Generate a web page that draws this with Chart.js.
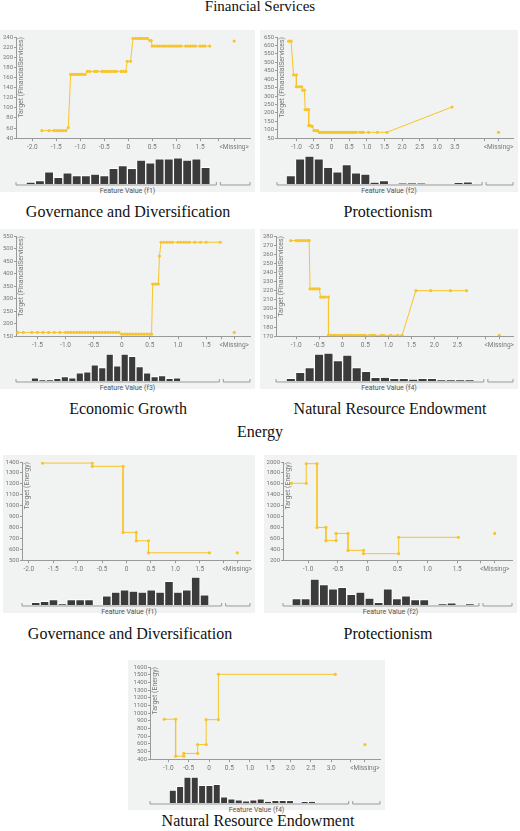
<!DOCTYPE html>
<html>
<head>
<meta charset="utf-8">
<script src="https://cdn.jsdelivr.net/npm/chart.js@4.4.0/dist/chart.umd.min.js"></script>
<style>
  body { margin: 0; background: #fff; width: 520px; height: 831px; position: relative; overflow: hidden; }
  .cap { position: absolute; font-family: "Liberation Serif", serif; font-size: 16px; color: #111; text-align: center; transform: translateX(-50%); white-space: nowrap; }
  .panel { position: absolute; background: #f1f2f2; }
  .panel canvas { position: absolute; left: 0; }
  .flabel { position: absolute; width: 100%; text-align: center; font-family: Roboto, sans-serif; font-size: 7px; color: #555; }
</style>
</head>
<body>
<div class="cap" style="left:260px;top:-2px;font-size:15px">Financial Services</div>
<div class="cap" style="left:128px;top:203px">Governance and Diversification</div>
<div class="cap" style="left:388px;top:203px">Protectionism</div>
<div class="cap" style="left:128px;top:400px">Economic Growth</div>
<div class="cap" style="left:390px;top:400px">Natural Resource Endowment</div>
<div class="cap" style="left:260px;top:423px">Energy</div>
<div class="cap" style="left:130px;top:625px">Governance and Diversification</div>
<div class="cap" style="left:388px;top:625px">Protectionism</div>
<div class="cap" style="left:258px;top:812px">Natural Resource Endowment</div>

<script>
// ---- Financial Services, f1
const fsF1X = [-1.8,-1.65,-1.55,-1.5,-1.45,-1.4,-1.35,-1.3,-1.25,-1.2,-1.15,-1.1,-1.05,-1.0,-0.95,-0.9,-0.85,-0.8,-0.7,-0.65,-0.55,-0.5,-0.45,-0.4,-0.35,-0.3,-0.25,-0.15,-0.1,-0.05,-0.02,0.05,0.1,0.15,0.2,0.25,0.3,0.35,0.4,0.45,0.48,0.5,0.55,0.6,0.65,0.7,0.75,0.8,0.85,0.9,0.95,1.0,1.05,1.1,1.2,1.25,1.3,1.35,1.4,1.5,1.55,1.6,1.7];
const fsF1Y = [55,55,55,55,55,55,55,55,61,166,166,166,166,166,166,166,172,172,172,172,172,172,172,172,172,172,172,172,172,172,192,192,237,237,237,237,237,237,237,233,233,222,222,222,222,222,222,222,222,222,222,222,222,222,222,222,222,222,222,222,222,222,222];
const fsF1Miss = 232;
const fsF1Hist = [3,6,22,12,20,15,15,18,15,28,33,28,43,38,45,45,47,43,45,30];

// ---- Financial Services, f2
const fsF2X = [-1.22,-1.15,-1.08,-1.0,-1.0,-0.95,-0.9,-0.85,-0.82,-0.77,-0.75,-0.7,-0.65,-0.65,-0.6,-0.55,-0.5,-0.45,-0.4,-0.35,-0.3,-0.25,-0.2,-0.15,-0.1,-0.05,0,0.05,0.1,0.15,0.2,0.25,0.3,0.35,0.4,0.45,0.5,0.55,0.6,0.65,0.7,0.8,0.85,0.9,1.05,1.3,1.57,3.42];
const fsF2Y = [625,625,425,425,355,355,355,355,335,335,220,220,220,125,125,120,95,95,95,85,85,85,85,85,85,85,85,85,85,85,85,85,85,85,85,85,85,85,85,85,85,85,85,85,85,85,85,235];
const fsF2Miss = 85;
const fsF2Hist = [15,45,50,45,30,22,35,20,18,3,6,0,1,1,1,0,0,0,2,4];

// ---- Financial Services, f3
const fsF3X = [-1.85,-1.75,-1.6,-1.5,-1.4,-1.3,-1.2,-1.1,-1.0,-0.95,-0.9,-0.85,-0.8,-0.75,-0.7,-0.65,-0.6,-0.55,-0.5,-0.45,-0.4,-0.35,-0.3,-0.25,-0.2,-0.15,-0.1,-0.05,0,0.05,0.1,0.15,0.2,0.25,0.3,0.35,0.4,0.45,0.5,0.53,0.55,0.6,0.65,0.67,0.7,0.75,0.8,0.85,0.9,1.0,1.05,1.1,1.15,1.2,1.3,1.4,1.5,1.75];
const fsF3Y = [165,165,165,165,165,165,165,165,165,165,165,165,165,165,165,165,165,165,165,165,165,165,165,165,165,165,165,165,158,158,158,158,158,158,158,158,158,158,158,158,358,358,358,470,525,525,525,525,525,525,525,525,525,525,525,525,525,525];
const fsF3Miss = 165;
const fsF3Hist = [6,2,2,5,8,6,15,17,30,25,50,28,50,46,27,15,8,10,5,6];

// ---- Financial Services, f4
const fsF4X = [-1.12,-1.0,-0.95,-0.9,-0.85,-0.8,-0.75,-0.72,-0.7,-0.65,-0.6,-0.55,-0.5,-0.47,-0.42,-0.37,-0.3,-0.3,-0.25,-0.2,-0.15,-0.1,-0.05,0,0.05,0.1,0.15,0.2,0.25,0.3,0.35,0.4,0.45,0.5,0.6,0.65,0.7,0.85,0.9,1.05,1.2,1.3,1.6,1.92,2.35,2.7];
const fsF4Y = [275,275,275,275,275,275,275,275,222,222,222,222,222,213,213,213,213,171,171,171,171,171,171,171,171,171,171,171,171,171,171,171,171,171,171,171,171,171,171,171,171,171,220,220,220,220];
const fsF4Miss = 171;
const fsF4Hist = [5,16,25,50,52,38,48,25,18,7,7,5,5,3,5,5,2,2,2,2];

// ---- Energy, f1
const enF1X = [-1.72,-0.7,-0.7,-0.07,-0.07,0.2,0.2,0.45,0.45,1.7];
const enF1Y = [1390,1390,1360,1360,755,755,678,678,568,568];
const enF1Miss = 568;
const enF1Hist = [5,7,10,2,10,10,10,0,17,24,28,26,24,28,24,44,24,28,52,19];

// ---- Energy, f2
const enF2X = [-1.28,-1.03,-1.03,-0.85,-0.85,-0.7,-0.7,-0.53,-0.53,-0.33,-0.33,-0.07,-0.07,0.52,0.52,1.52];
const enF2Y = [1610,1610,1970,1970,800,800,560,560,690,690,380,380,320,320,620,620];
const enF2Miss = 690;
const enF2Hist = [12,12,48,38,30,33,20,24,13,5,30,12,17,10,10,0,2,4,0,2];

// ---- Energy, f4
const enF4X = [-1.1,-0.82,-0.82,-0.62,-0.62,-0.28,-0.28,-0.07,-0.07,0.23,0.23,3.1];
const enF4Y = [920,920,440,440,475,475,590,590,915,915,1505,1505];
const enF4Miss = 590;
const enF4Hist = [25,32,50,50,34,34,36,12,8,6,4,6,8,3,5,5,5,0,3,3];

const GOLD = '#f7c52a';
const TICK = '#777';

// y-axis title drawn inside the plot, next to the axis
const yTitlePlugin = {
  id: 'yTitle',
  afterDraw(chart, args, opts) {
    const ctx = chart.ctx, a = chart.chartArea;
    ctx.save();
    ctx.translate(a.left + 5, a.top);
    ctx.rotate(-Math.PI / 2);
    ctx.font = '7px Roboto';
    ctx.fillStyle = '#777';
    ctx.textAlign = 'right';
    ctx.textBaseline = 'middle';
    ctx.fillText(opts.text, 0, 0);
    ctx.restore();
  }
};

// bracket line under the histogram
const bracketPlugin = {
  id: 'bracket',
  afterDraw(chart, args, opts) {
    const ctx = chart.ctx, x = chart.scales.x, y = chart.chartArea.bottom + 1;
    const segs = [[x.left, x.getPixelForValue(opts.sep) - 2], [x.getPixelForValue(opts.sep) + 2, x.right]];
    ctx.save();
    ctx.strokeStyle = '#999';
    ctx.lineWidth = 1;
    segs.forEach(s => {
      ctx.beginPath();
      ctx.moveTo(s[0], y - 3); ctx.lineTo(s[0], y); ctx.lineTo(s[1], y); ctx.lineTo(s[1], y - 3);
      ctx.stroke();
    });
    ctx.restore();
  }
};

function fmt(v) { return v === 0 ? '0' : v.toFixed(1); }

function addPanel(p) {
  const div = document.createElement('div');
  div.className = 'panel';
  div.style.cssText = `left:${p.left}px;top:${p.top}px;width:${p.w}px;height:${p.h}px`;
  document.body.appendChild(div);

  const lineH = Math.round(p.h * 0.76);
  const histTop = lineH + 2, histH = Math.round(p.h * 0.19);

  const c1 = document.createElement('canvas');
  c1.width = p.w; c1.height = lineH; c1.style.top = '0px';
  div.appendChild(c1);
  const c2 = document.createElement('canvas');
  c2.width = p.w; c2.height = histH; c2.style.top = histTop + 'px';
  div.appendChild(c2);
  const lab = document.createElement('div');
  lab.className = 'flabel';
  lab.style.top = (histTop + histH + 1) + 'px';
  lab.textContent = p.label;
  div.appendChild(lab);

  const ticks = p.ticks.concat([p.sep, p.miss]);
  const xScale = {
    type: 'linear', min: p.min, max: p.max,
    afterBuildTicks: s => { s.ticks = ticks.map(v => ({ value: v })); },
    grid: { drawOnChartArea: false, drawTicks: true, tickLength: 3, color: '#999' },
    border: { color: '#999' },
    ticks: { font: { size: 6.5, family: 'Roboto' }, color: TICK, maxRotation: 0, autoSkip: false, padding: 2,
      callback: v => v === p.miss ? '<Missing>' : (v === p.sep ? '' : fmt(v)) }
  };

  new Chart(c1, {
    type: 'scatter',
    data: {
      datasets: [
        { data: p.xs.map((x, i) => ({ x: x, y: p.ys[i] })), showLine: true, borderColor: GOLD, borderWidth: 1,
          pointRadius: 1.6, pointBackgroundColor: GOLD, pointBorderWidth: 0 },
        { data: [{ x: p.miss, y: p.missY }], pointRadius: 1.6, pointBackgroundColor: GOLD, pointBorderWidth: 0 }
      ]
    },
    options: {
      responsive: false, animation: false, events: [],
      layout: { padding: { top: 7, right: 5, left: 0, bottom: 0 } },
      plugins: { legend: { display: false }, tooltip: { enabled: false }, yTitle: { text: p.yTitle } },
      scales: {
        x: xScale,
        y: {
          min: p.ymin, max: p.ymax,
          afterFit: s => { s.width = p.yw; },
          grid: { drawOnChartArea: false, tickLength: 2, color: '#999' },
          border: { color: '#999' },
          ticks: { stepSize: p.step, autoSkip: false, font: { size: 6, family: 'Roboto' }, color: TICK, padding: 1,
            callback: v => String(v) }
        }
      }
    },
    plugins: [yTitlePlugin]
  });

  const n = p.hist.length, hw = (p.hEnd - p.hStart) / n;
  new Chart(c2, {
    type: 'bar',
    data: {
      datasets: [{ data: p.hist.map((v, i) => ({ x: p.hStart + hw * (i + 0.5), y: v })),
        backgroundColor: '#3b3b3b', borderColor: '#ffffff', borderWidth: 1,
        barThickness: 'flex', barPercentage: 1, categoryPercentage: 1 }]
    },
    options: {
      responsive: false, animation: false, events: [],
      layout: { padding: { top: 0, right: 5, left: p.yw, bottom: 2 } },
      plugins: { legend: { display: false }, tooltip: { enabled: false }, bracket: { sep: p.sep } },
      scales: {
        x: { type: 'linear', min: p.min, max: p.max, display: false, offset: false },
        y: { min: 0, max: 52, display: false }
      }
    },
    plugins: [bracketPlugin]
  });
}

const FS = 'Target (FinancialServices)', EN = 'Target (Energy)';

addPanel({ left: 0, top: 30, w: 255, h: 162, yw: 16, xs: fsF1X, ys: fsF1Y, missY: fsF1Miss, hist: fsF1Hist,
  min: -2.34, max: 2.54, sep: 1.88, miss: 2.21, ticks: [-2, -1.5, -1, -0.5, 0, 0.5, 1, 1.5],
  ymin: 40, ymax: 240, step: 20, yTitle: FS, label: 'Feature Value (f1)', hStart: -2.13, hEnd: 1.71 });

addPanel({ left: 260, top: 30, w: 258, h: 162, yw: 17, xs: fsF2X, ys: fsF2Y, missY: fsF2Miss, hist: fsF2Hist,
  min: -1.55, max: 5.15, sep: 4.33, miss: 4.74, ticks: [-1, -0.5, 0, 0.5, 1, 1.5, 2, 2.5, 3, 3.5],
  ymin: 50, ymax: 650, step: 50, yTitle: FS, label: 'Feature Value (f2)', hStart: -1.29, hEnd: 4.0 });

addPanel({ left: 0, top: 229, w: 255, h: 160, yw: 16, xs: fsF3X, ys: fsF3Y, missY: fsF3Miss, hist: fsF3Hist,
  min: -1.88, max: 2.28, sep: 1.77, miss: 2.0, ticks: [-1.5, -1, -0.5, 0, 0.5, 1, 1.5],
  ymin: 150, ymax: 550, step: 50, yTitle: FS, label: 'Feature Value (f3)', hStart: -1.61, hEnd: 1.05 });

addPanel({ left: 260, top: 229, w: 258, h: 160, yw: 16, xs: fsF4X, ys: fsF4Y, missY: fsF4Miss, hist: fsF4Hist,
  min: -1.44, max: 3.71, sep: 3.12, miss: 3.41, ticks: [-1, -0.5, 0, 0.5, 1, 1.5, 2, 2.5],
  ymin: 170, ymax: 280, step: 10, yTitle: FS, label: 'Feature Value (f4)', hStart: -1.22, hEnd: 2.87 });

addPanel({ left: 3, top: 455, w: 252, h: 158, yw: 19, xs: enF1X, ys: enF1Y, missY: enF1Miss, hist: enF1Hist,
  min: -2.14, max: 2.53, sep: 1.99, miss: 2.27, ticks: [-2, -1.5, -1, -0.5, 0, 0.5, 1, 1.5],
  ymin: 500, ymax: 1400, step: 100, yTitle: EN, label: 'Feature Value (f1)', hStart: -1.95, hEnd: 1.69 });

addPanel({ left: 264, top: 455, w: 253, h: 158, yw: 19, xs: enF2X, ys: enF2Y, missY: enF2Miss, hist: enF2Hist,
  min: -1.42, max: 2.42, sep: 1.9, miss: 2.13, ticks: [-1, -0.5, 0, 0.5, 1, 1.5],
  ymin: 200, ymax: 2000, step: 200, yTitle: EN, label: 'Feature Value (f2)', hStart: -1.27, hEnd: 1.79 });

addPanel({ left: 128, top: 660, w: 257, h: 150, yw: 22, xs: enF4X, ys: enF4Y, missY: enF4Miss, hist: enF4Hist,
  min: -1.45, max: 4.2, sep: 3.48, miss: 3.83, ticks: [-1, -0.5, 0, 0.5, 1, 1.5, 2, 2.5, 3],
  ymin: 400, ymax: 1600, step: 100, yTitle: EN, label: 'Feature Value (f4)', hStart: -0.98, hEnd: 2.62 });
</script>
</body>
</html>
